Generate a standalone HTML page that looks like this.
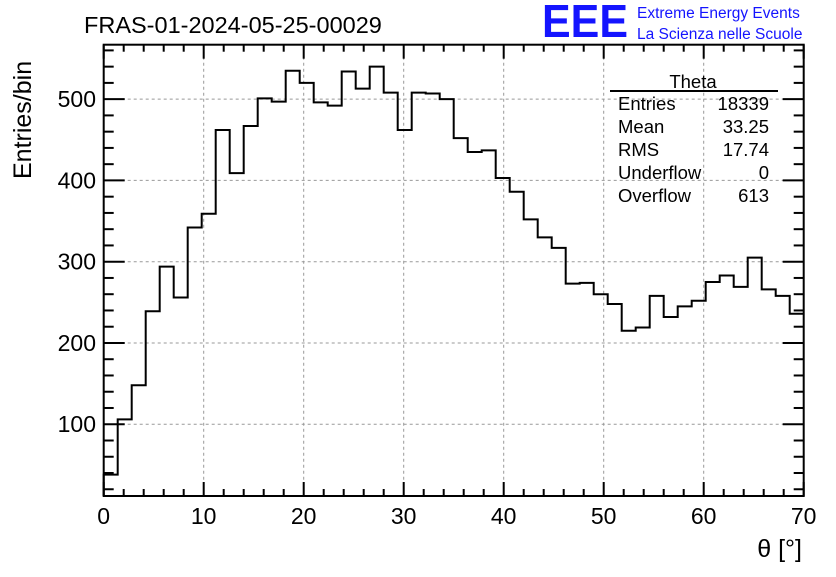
<!DOCTYPE html>
<html><head><meta charset="utf-8"><style>
body{margin:0;background:#fff;width:836px;height:572px;overflow:hidden;font-family:"Liberation Sans",sans-serif}
</style></head><body>
<svg width="836" height="572" xmlns="http://www.w3.org/2000/svg" font-family="Liberation Sans, sans-serif">
<text x="84" y="33" font-size="23.5">FRAS-01-2024-05-25-00029</text>
<text x="542" y="37" font-size="46" font-weight="bold" fill="#1414ff" textLength="86" lengthAdjust="spacingAndGlyphs">EEE</text>
<text x="637" y="18" font-size="15.5" fill="#1414ff">Extreme Energy Events</text>
<text x="637" y="39" font-size="15.5" fill="#1414ff">La Scienza nelle Scuole</text>
<g id="grid"></g>
<g id="ticks"></g>
<path id="hist" fill="none" stroke="#000" stroke-width="2"></path>
<rect x="103.7" y="44.7" width="700" height="451.3" fill="none" stroke="#000" stroke-width="2"/>
<g id="labels" font-size="23"></g>
<text transform="translate(31,179) rotate(-90)" font-size="25">Entries/bin</text>
<text x="802" y="557" font-size="25" text-anchor="end">θ [°]</text>
<g font-size="18.5">
<text x="693" y="88" text-anchor="middle">Theta</text>
<line x1="610" y1="91" x2="778" y2="91" stroke="#000" stroke-width="2"/>
<text x="618" y="110">Entries</text><text x="769" y="110" text-anchor="end">18339</text>
<text x="618" y="133">Mean</text><text x="769" y="133" text-anchor="end">33.25</text>
<text x="618" y="156">RMS</text><text x="769" y="156" text-anchor="end">17.74</text>
<text x="618" y="179">Underflow</text><text x="769" y="179" text-anchor="end">0</text>
<text x="618" y="202">Overflow</text><text x="769" y="202" text-anchor="end">613</text>
</g>
</svg>
<script>
const counts=[38,106,148,239,294,256,342,359,462,409,467,501,497,535,520,496,492,534,513,540,508,462,508,507,500,452,435,437,403,386,352,330,317,273,274,260,248,215,219,258,232,245,252,275,283,269,305,266,258,236];
const binWidth=1.4;
const xTicks=[0,10,20,30,40,50,60,70];
const yTicks=[100,200,300,400,500];
const X0=103.7,X1=803.7,XMAX=70,YB=496,YT=44.7;
const YMIN=11.7,YMAX=567;
const sx=v=>X0+(v/XMAX)*(X1-X0);
const sy=v=>YB-(v-YMIN)/(YMAX-YMIN)*(YB-YT);
const ns="http://www.w3.org/2000/svg";
function mk(tag,attrs,parent){const e=document.createElementNS(ns,tag);for(const k in attrs)e.setAttribute(k,attrs[k]);parent.appendChild(e);return e;}
const grid=document.getElementById('grid'),ticks=document.getElementById('ticks'),labels=document.getElementById('labels');
xTicks.forEach(t=>{
 const x=sx(t);
 if(t>0&&t<XMAX){const g=mk('line',{x1:x,x2:x,y1:YT,y2:YB,stroke:'#999','stroke-dasharray':'3,3','stroke-width':1},grid);
 
 }
 const l=mk('text',{x:x,y:524,'text-anchor':'middle'},labels);l.textContent=t;
 
 
});
for(let v=0;v<=XMAX;v+=2){const x=sx(v);const len=v%10===0?14:7;
 mk('line',{x1:x,x2:x,y1:YB,y2:YB-len,stroke:'#000','stroke-width':2},ticks);
 mk('line',{x1:x,x2:x,y1:YT,y2:YT+len,stroke:'#000','stroke-width':2},ticks);}
yTicks.forEach(t=>{
 const y=sy(t);
 const g=mk('line',{x1:X0,x2:X1,y1:y,y2:y,stroke:'#999','stroke-dasharray':'3,3','stroke-width':1},grid);
 
 
 const l=mk('text',{x:96,y:y+8,'text-anchor':'end'},labels);l.textContent=t;
 
 
});
for(let v=20;v<YMAX;v+=20){const y=sy(v);const len=v%100===0?21:10;
 mk('line',{x1:X0,x2:X0+len,y1:y,y2:y,stroke:'#000','stroke-width':2},ticks);
 mk('line',{x1:X1,x2:X1-len,y1:y,y2:y,stroke:'#000','stroke-width':2},ticks);}
let d='M'+sx(0)+','+YB;
counts.forEach((c,i)=>{d+=' L'+sx(i*binWidth)+','+sy(c)+' L'+sx((i+1)*binWidth)+','+sy(c);});
document.getElementById('hist').setAttribute('d',d);
</script>
</body></html>
